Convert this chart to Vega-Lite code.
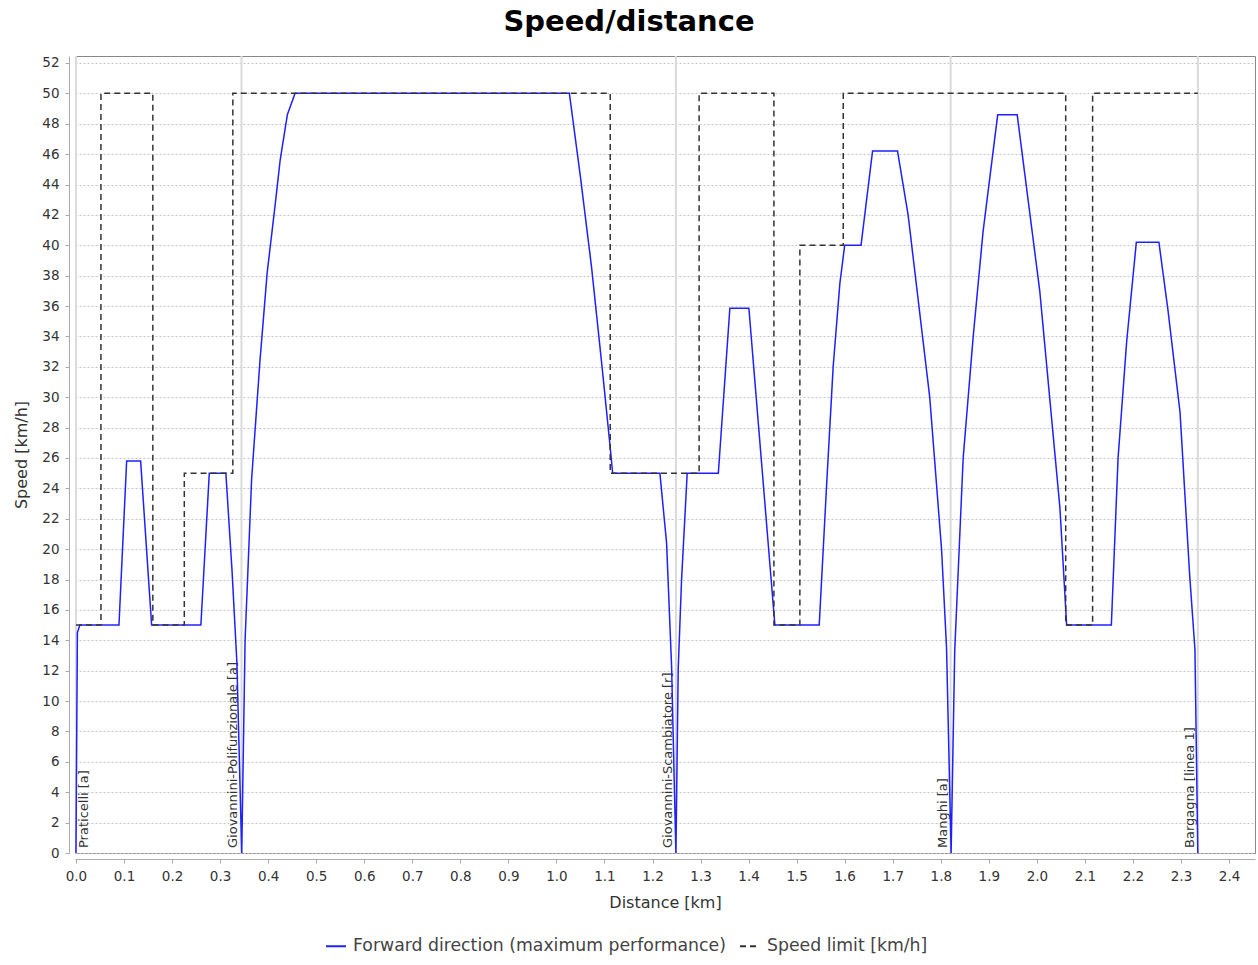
{
  "$schema": "https://vega.github.io/schema/vega-lite/v6.json",
  "width": 1180,
  "height": 797,
  "autosize": {"type": "none"},
  "padding": {"left": 75, "top": 56, "right": 3, "bottom": 112},
  "background": "white",
  "title": {"text": "Speed/distance", "font": "DejaVu Sans", "fontSize": 29, "fontWeight": "bold", "color": "#000000", "anchor": "middle", "dx": -36, "offset": 18},
  "config": {
    "view": {"stroke": "#888888", "strokeWidth": 1},
    "axis": {"labelFont": "DejaVu Sans", "titleFont": "DejaVu Sans", "labelFontSize": 13.5, "labelColor": "#333333", "titleFontSize": 16, "titleFontWeight": "normal", "titleColor": "#333333", "domainColor": "#aaaaaa", "tickColor": "#aaaaaa", "tickSize": 4, "labelOverlap": false, "labelFlush": false}
  },
  "datasets": {
    "speed": [
      {"i": 1, "series": "Forward direction (maximum performance)", "km": 0.0, "v": 0},
      {"i": 2, "series": "Forward direction (maximum performance)", "km": 0.003, "v": 14.5},
      {"i": 3, "series": "Forward direction (maximum performance)", "km": 0.008, "v": 15},
      {"i": 4, "series": "Forward direction (maximum performance)", "km": 0.0895, "v": 15},
      {"i": 5, "series": "Forward direction (maximum performance)", "km": 0.1055, "v": 25.8},
      {"i": 6, "series": "Forward direction (maximum performance)", "km": 0.1346, "v": 25.8},
      {"i": 7, "series": "Forward direction (maximum performance)", "km": 0.1575, "v": 15},
      {"i": 8, "series": "Forward direction (maximum performance)", "km": 0.26, "v": 15},
      {"i": 9, "series": "Forward direction (maximum performance)", "km": 0.2775, "v": 25},
      {"i": 10, "series": "Forward direction (maximum performance)", "km": 0.312, "v": 25},
      {"i": 11, "series": "Forward direction (maximum performance)", "km": 0.325, "v": 18.5},
      {"i": 12, "series": "Forward direction (maximum performance)", "km": 0.335, "v": 12.5},
      {"i": 13, "series": "Forward direction (maximum performance)", "km": 0.345, "v": 0},
      {"i": 14, "series": "Forward direction (maximum performance)", "km": 0.352, "v": 14},
      {"i": 15, "series": "Forward direction (maximum performance)", "km": 0.3656, "v": 24.6},
      {"i": 16, "series": "Forward direction (maximum performance)", "km": 0.383, "v": 32.4},
      {"i": 17, "series": "Forward direction (maximum performance)", "km": 0.398, "v": 38.2},
      {"i": 18, "series": "Forward direction (maximum performance)", "km": 0.414, "v": 42.5},
      {"i": 19, "series": "Forward direction (maximum performance)", "km": 0.425, "v": 45.6},
      {"i": 20, "series": "Forward direction (maximum performance)", "km": 0.44, "v": 48.6},
      {"i": 21, "series": "Forward direction (maximum performance)", "km": 0.456, "v": 50},
      {"i": 22, "series": "Forward direction (maximum performance)", "km": 1.027, "v": 50},
      {"i": 23, "series": "Forward direction (maximum performance)", "km": 1.05, "v": 44.5},
      {"i": 24, "series": "Forward direction (maximum performance)", "km": 1.073, "v": 38.6},
      {"i": 25, "series": "Forward direction (maximum performance)", "km": 1.095, "v": 32},
      {"i": 26, "series": "Forward direction (maximum performance)", "km": 1.111, "v": 27},
      {"i": 27, "series": "Forward direction (maximum performance)", "km": 1.117, "v": 25},
      {"i": 28, "series": "Forward direction (maximum performance)", "km": 1.2154, "v": 25},
      {"i": 29, "series": "Forward direction (maximum performance)", "km": 1.2293, "v": 20.4},
      {"i": 30, "series": "Forward direction (maximum performance)", "km": 1.2397, "v": 12.3},
      {"i": 31, "series": "Forward direction (maximum performance)", "km": 1.2487, "v": 0},
      {"i": 32, "series": "Forward direction (maximum performance)", "km": 1.2535, "v": 12.1},
      {"i": 33, "series": "Forward direction (maximum performance)", "km": 1.2605, "v": 18},
      {"i": 34, "series": "Forward direction (maximum performance)", "km": 1.2722, "v": 25},
      {"i": 35, "series": "Forward direction (maximum performance)", "km": 1.337, "v": 25},
      {"i": 36, "series": "Forward direction (maximum performance)", "km": 1.361, "v": 35.86},
      {"i": 37, "series": "Forward direction (maximum performance)", "km": 1.4006, "v": 35.86},
      {"i": 38, "series": "Forward direction (maximum performance)", "km": 1.4547, "v": 15},
      {"i": 39, "series": "Forward direction (maximum performance)", "km": 1.547, "v": 15},
      {"i": 40, "series": "Forward direction (maximum performance)", "km": 1.562, "v": 24},
      {"i": 41, "series": "Forward direction (maximum performance)", "km": 1.576, "v": 32},
      {"i": 42, "series": "Forward direction (maximum performance)", "km": 1.59, "v": 37.5},
      {"i": 43, "series": "Forward direction (maximum performance)", "km": 1.6, "v": 40},
      {"i": 44, "series": "Forward direction (maximum performance)", "km": 1.634, "v": 40},
      {"i": 45, "series": "Forward direction (maximum performance)", "km": 1.658, "v": 46.2},
      {"i": 46, "series": "Forward direction (maximum performance)", "km": 1.71, "v": 46.2},
      {"i": 47, "series": "Forward direction (maximum performance)", "km": 1.732, "v": 42},
      {"i": 48, "series": "Forward direction (maximum performance)", "km": 1.777, "v": 30},
      {"i": 49, "series": "Forward direction (maximum performance)", "km": 1.8016, "v": 20},
      {"i": 50, "series": "Forward direction (maximum performance)", "km": 1.812, "v": 13.5},
      {"i": 51, "series": "Forward direction (maximum performance)", "km": 1.8215, "v": 0},
      {"i": 52, "series": "Forward direction (maximum performance)", "km": 1.829, "v": 13.3},
      {"i": 53, "series": "Forward direction (maximum performance)", "km": 1.8466, "v": 26},
      {"i": 54, "series": "Forward direction (maximum performance)", "km": 1.8675, "v": 34},
      {"i": 55, "series": "Forward direction (maximum performance)", "km": 1.888, "v": 40.9},
      {"i": 56, "series": "Forward direction (maximum performance)", "km": 1.9185, "v": 48.6},
      {"i": 57, "series": "Forward direction (maximum performance)", "km": 1.959, "v": 48.6},
      {"i": 58, "series": "Forward direction (maximum performance)", "km": 2.006, "v": 37},
      {"i": 59, "series": "Forward direction (maximum performance)", "km": 2.048, "v": 22.7},
      {"i": 60, "series": "Forward direction (maximum performance)", "km": 2.062, "v": 15},
      {"i": 61, "series": "Forward direction (maximum performance)", "km": 2.155, "v": 15},
      {"i": 62, "series": "Forward direction (maximum performance)", "km": 2.169, "v": 26},
      {"i": 63, "series": "Forward direction (maximum performance)", "km": 2.187, "v": 33.7},
      {"i": 64, "series": "Forward direction (maximum performance)", "km": 2.207, "v": 40.2},
      {"i": 65, "series": "Forward direction (maximum performance)", "km": 2.254, "v": 40.2},
      {"i": 66, "series": "Forward direction (maximum performance)", "km": 2.273, "v": 35.7},
      {"i": 67, "series": "Forward direction (maximum performance)", "km": 2.298, "v": 29},
      {"i": 68, "series": "Forward direction (maximum performance)", "km": 2.318, "v": 18.3},
      {"i": 69, "series": "Forward direction (maximum performance)", "km": 2.329, "v": 13.4},
      {"i": 70, "series": "Forward direction (maximum performance)", "km": 2.335, "v": 0},
      {"i": 101, "series": "Speed limit [km/h]", "km": 0.0, "v": 15},
      {"i": 102, "series": "Speed limit [km/h]", "km": 0.052, "v": 15},
      {"i": 103, "series": "Speed limit [km/h]", "km": 0.052, "v": 50},
      {"i": 104, "series": "Speed limit [km/h]", "km": 0.16, "v": 50},
      {"i": 105, "series": "Speed limit [km/h]", "km": 0.16, "v": 15},
      {"i": 106, "series": "Speed limit [km/h]", "km": 0.2255, "v": 15},
      {"i": 107, "series": "Speed limit [km/h]", "km": 0.2255, "v": 25},
      {"i": 108, "series": "Speed limit [km/h]", "km": 0.3265, "v": 25},
      {"i": 109, "series": "Speed limit [km/h]", "km": 0.3265, "v": 50},
      {"i": 110, "series": "Speed limit [km/h]", "km": 1.112, "v": 50},
      {"i": 111, "series": "Speed limit [km/h]", "km": 1.112, "v": 25},
      {"i": 112, "series": "Speed limit [km/h]", "km": 1.297, "v": 25},
      {"i": 113, "series": "Speed limit [km/h]", "km": 1.297, "v": 50},
      {"i": 114, "series": "Speed limit [km/h]", "km": 1.4527, "v": 50},
      {"i": 115, "series": "Speed limit [km/h]", "km": 1.4527, "v": 15},
      {"i": 116, "series": "Speed limit [km/h]", "km": 1.5067, "v": 15},
      {"i": 117, "series": "Speed limit [km/h]", "km": 1.5067, "v": 40},
      {"i": 118, "series": "Speed limit [km/h]", "km": 1.597, "v": 40},
      {"i": 119, "series": "Speed limit [km/h]", "km": 1.597, "v": 50},
      {"i": 120, "series": "Speed limit [km/h]", "km": 2.06, "v": 50},
      {"i": 121, "series": "Speed limit [km/h]", "km": 2.06, "v": 15},
      {"i": 122, "series": "Speed limit [km/h]", "km": 2.116, "v": 15},
      {"i": 123, "series": "Speed limit [km/h]", "km": 2.116, "v": 50},
      {"i": 124, "series": "Speed limit [km/h]", "km": 2.335, "v": 50}
    ],
    "stations": [
      {"name": "Praticelli [a]", "km": 0.0},
      {"name": "Giovannini-Polifunzionale [a]", "km": 0.3445},
      {"name": "Giovannini-Scambiatore [r]", "km": 1.2487},
      {"name": "Manghi [a]", "km": 1.8205},
      {"name": "Bargagna [linea 1]", "km": 2.335}
    ]
  },
  "encoding": {
    "x": {
      "field": "km", "type": "quantitative",
      "scale": {"domain": [-0.002, 2.454], "nice": false, "zero": false},
      "axis": {"title": "Distance [km]", "values": [0, 0.1, 0.2, 0.3, 0.4, 0.5, 0.6, 0.7, 0.8, 0.9, 1.0, 1.1, 1.2, 1.3, 1.4, 1.5, 1.6, 1.7, 1.8, 1.9, 2.0, 2.1, 2.2, 2.3, 2.4], "format": ".1f", "grid": false, "offset": 6, "labelPadding": 6, "titlePadding": 12}
    }
  },
  "layer": [
    {
      "data": {"name": "stations"},
      "mark": {"type": "rule", "color": "#dadada", "strokeWidth": 2},
      "encoding": {}
    },
    {
      "data": {"name": "stations"},
      "transform": [{"filter": "datum.km > 0"}],
      "mark": {"type": "text", "angle": 270, "align": "left", "baseline": "bottom", "dx": 5, "dy": -1, "font": "DejaVu Sans", "fontSize": 13, "color": "#333333"},
      "encoding": {
        "y": {"datum": 0, "type": "quantitative", "scale": {"domain": [0, 52.46], "nice": false, "zero": false},
          "axis": {"title": "Speed [km/h]", "values": [0, 2, 4, 6, 8, 10, 12, 14, 16, 18, 20, 22, 24, 26, 28, 30, 32, 34, 36, 38, 40, 42, 44, 46, 48, 50, 52], "format": "d", "grid": true, "gridDash": [2, 2], "gridColor": "#c4c4c4", "offset": 6, "labelPadding": 6, "titlePadding": 12}},
        "text": {"field": "name"}
      }
    },
    {
      "data": {"name": "stations"},
      "transform": [{"filter": "datum.km == 0"}],
      "mark": {"type": "text", "angle": 270, "align": "left", "baseline": "top", "dx": 5, "dy": 2, "font": "DejaVu Sans", "fontSize": 13, "color": "#333333"},
      "encoding": {
        "y": {"datum": 0, "type": "quantitative", "scale": {"domain": [0, 52.46], "nice": false, "zero": false},
          "axis": {"title": "Speed [km/h]", "values": [0, 2, 4, 6, 8, 10, 12, 14, 16, 18, 20, 22, 24, 26, 28, 30, 32, 34, 36, 38, 40, 42, 44, 46, 48, 50, 52], "format": "d", "grid": true, "gridDash": [2, 2], "gridColor": "#c4c4c4", "offset": 6, "labelPadding": 6, "titlePadding": 12}},
        "text": {"field": "name"}
      }
    },
    {
      "data": {"name": "speed"},
      "mark": {"type": "line", "strokeWidth": 1.5},
      "encoding": {
        "y": {
          "field": "v", "type": "quantitative",
          "scale": {"domain": [0, 52.46], "nice": false, "zero": false},
          "axis": {"title": "Speed [km/h]", "values": [0, 2, 4, 6, 8, 10, 12, 14, 16, 18, 20, 22, 24, 26, 28, 30, 32, 34, 36, 38, 40, 42, 44, 46, 48, 50, 52], "format": "d", "grid": true, "gridDash": [2, 2], "gridColor": "#c4c4c4", "offset": 6, "labelPadding": 6, "titlePadding": 12}
        },
        "color": {
          "field": "series", "type": "nominal",
          "scale": {"domain": ["Forward direction (maximum performance)", "Speed limit [km/h]"], "range": ["#1f1fff", "#333333"]},
          "legend": {"title": null, "orient": "none", "direction": "horizontal", "legendX": 250, "legendY": 879, "labelFont": "DejaVu Sans", "labelFontSize": 17.3, "labelColor": "#444444", "labelLimit": 0, "symbolType": "stroke", "symbolSize": 400, "symbolStrokeWidth": 2, "labelOffset": 6, "columnPadding": 10}
        },
        "strokeDash": {
          "field": "series", "type": "nominal",
          "scale": {"domain": ["Forward direction (maximum performance)", "Speed limit [km/h]"], "range": [[1, 0], [6, 4]]},
          "legend": {"title": null, "orient": "none", "direction": "horizontal", "legendX": 250, "legendY": 879, "labelFont": "DejaVu Sans", "labelFontSize": 17.3, "labelColor": "#444444", "labelLimit": 0, "symbolType": "stroke", "symbolSize": 400, "symbolStrokeWidth": 2, "labelOffset": 6, "columnPadding": 10}
        },
        "order": {"field": "i", "type": "quantitative"}
      }
    }
  ]
}
